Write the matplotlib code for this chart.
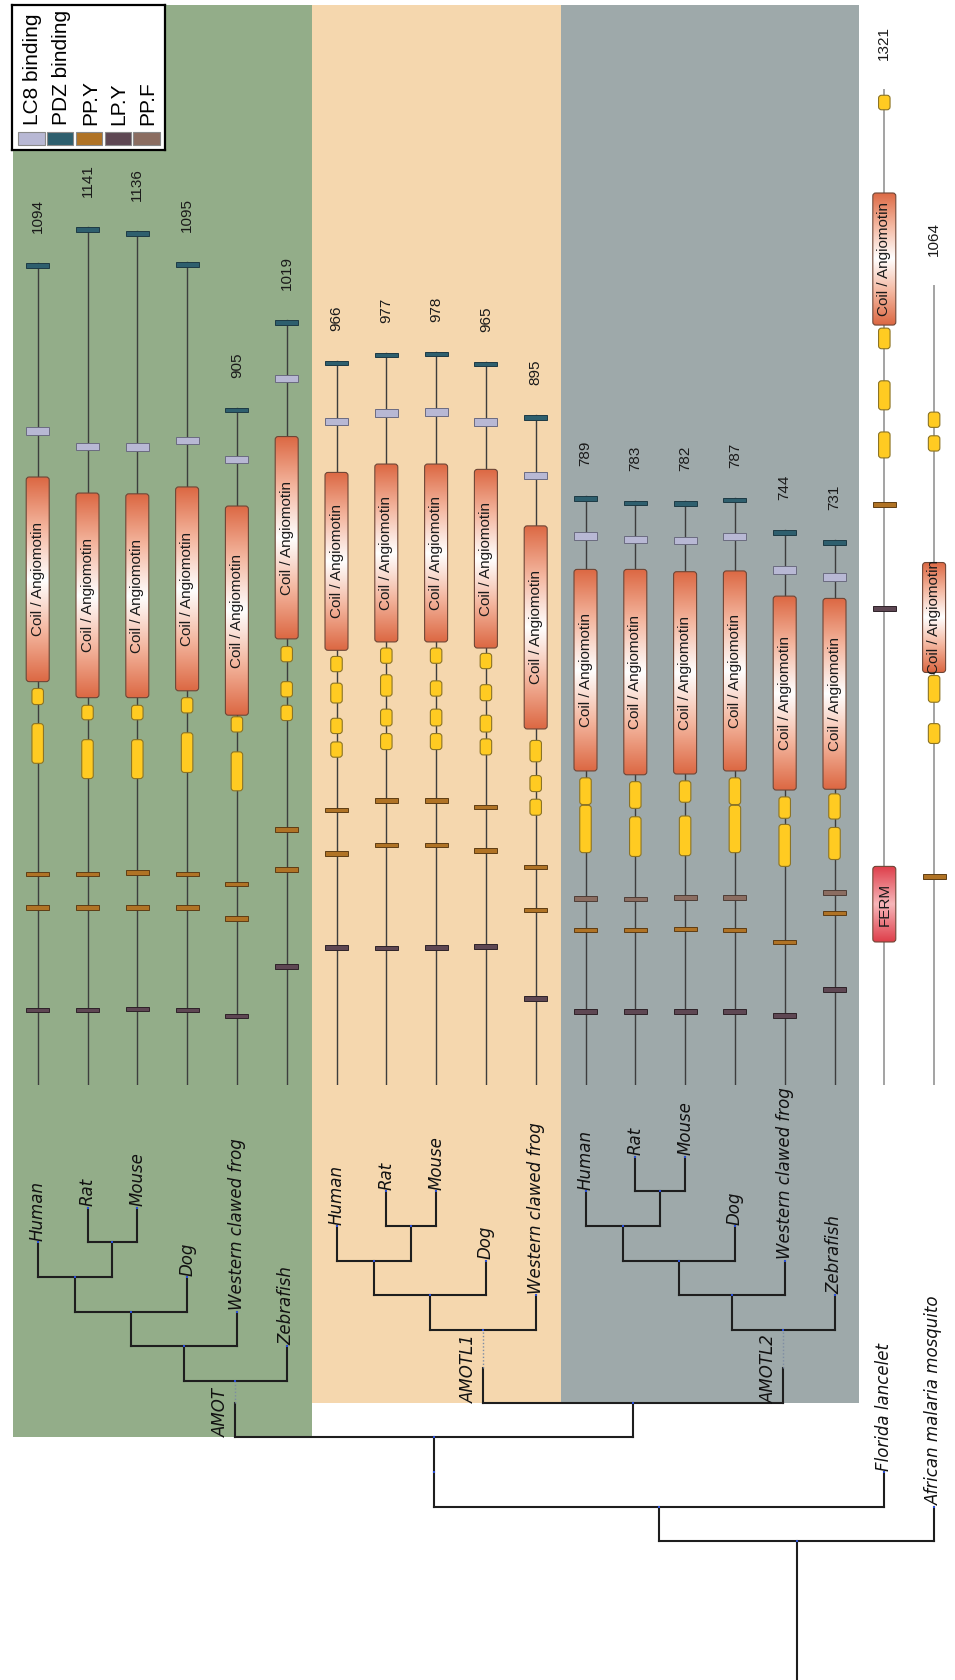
import numpy as np
import matplotlib
matplotlib.use("Agg")
import matplotlib.pyplot as plt
from matplotlib.colors import LinearSegmentedColormap
from matplotlib.patches import Rectangle, FancyBboxPatch

# ---- proteins, one lane each, in the leaf order of the tree ----
species = ["Human", "Rat", "Mouse", "Dog", "Western clawed frog", "Zebrafish",
           "Human", "Rat", "Mouse", "Dog", "Western clawed frog",
           "Human", "Rat", "Mouse", "Dog", "Western clawed frog", "Zebrafish",
           "Florida lancelet", "African malaria mosquito"]
lengths = [1094, 1141, 1136, 1095, 905, 1019,
           966, 977, 978, 965, 895,
           789, 783, 782, 787, 744, 731,
           1321, 1064]
has_pdz = [True] * 17 + [False, False]
lc8 = [874, 854, 853, 862, 837, 943,
       887, 898, 899, 886, 816,
       737, 732, 731, 736, 692, 683,
       None, None]
coil = [(546, 814), (525, 793), (525, 792), (534, 801), (502, 776), (602, 867),
        (587, 820), (598, 831), (598, 831), (590, 824), (484, 750),
        (429, 693), (424, 693), (425, 690), (429, 691), (404, 658), (405, 655),
        (1013, 1186), (558, 702)]
cc_boxes = [[(516, 537), (439, 491)],
            [(496, 515), (419, 470)],
            [(496, 515), (419, 470)],
            [(505, 525), (427, 479)],
            [(480, 500), (403, 454)],
            [(572, 592), (526, 546), (495, 515)],
            [(559, 579), (518, 544), (478, 498), (447, 467)],
            [(570, 590), (527, 555), (488, 510), (457, 478)],
            [(570, 590), (527, 547), (488, 510), (457, 478)],
            [(563, 583), (521, 542), (480, 502), (450, 471)],
            [(441, 469), (402, 423), (371, 392)],
            [(385, 420), (322, 384)],
            [(380, 415), (317, 369)],
            [(388, 416), (318, 370)],
            [(385, 420), (322, 384)],
            [(367, 395), (304, 359)],
            [(366, 399), (313, 355)],
            [(1295, 1314), (982, 1009), (902, 940), (839, 873)],
            [(879, 899), (848, 868), (519, 554), (465, 491)]]
pp_y = [[294, 250], [294, 250], [296, 250], [294, 250], [281, 236], [352, 300],
        [378, 321], [390, 332], [390, 332], [382, 325], [303, 247],
        [221], [221], [222], [221], [205], [243],
        [778], [291]]
lp_y = [116, 116, 117, 116, 108, 173,
        198, 197, 198, 199, 131,
        114, 114, 114, 114, 109, 143,
        642, None]
pp_f = [None] * 11 + [262, 261, 263, 263, None, 270] + [None, None]
ferm = [None] * 17 + [(205, 304), None]

# ---- tree (leaves are lane numbers) ----
amot_tree = ((((0, (1, 2)), 3), 4), 5)
amotl1_tree = (((6, (7, 8)), 9), 10)
amotl2_tree = ((((11, (12, 13)), 14), 15), 16)
clade_names = ["AMOT", "AMOTL1", "AMOTL2"]
clade_levels = [8.63, 10.1, 10.1]
clade_colors = ["#93AD89", "#F5D7AE", "#9EA9AA"]
full_tree = ((("unary", (("clade", 0, amot_tree),
                         (("clade", 1, amotl1_tree), ("clade", 2, amotl2_tree)))), 17), 18)
root_level = 4

legend_names = ["LC8 binding", "PDZ binding", "PP.Y", "LP.Y", "PP.F"]
legend_colors = ["#B8B8D4", "#2E5F6E", "#B07325", "#5E4753", "#8B6D61"]

# ---- layout (pixels of a 955x1680 canvas) ----
W, H = 955, 1680
lane0_px, lane_px = 37.7, 49.8
level_px = 34.65
res_px, res0_px, prot_bottom_px = 0.7635, 1098.5, 1085
top_px = 4.5

fig = plt.figure(figsize=(W / 100, H / 100), dpi=100)
xlim = (-lane0_px / lane_px, (W - lane0_px) / lane_px)

# ---------------- tree ----------------
ax = fig.add_axes([0, 0, 1, 1])
ax.set_xlim(*xlim)
ax.set_ylim(0, H / level_px)
ax.axis("off")
top_level = (H - top_px) / level_px

branch = dict(color="#1e1e1e", lw=1.5, solid_capstyle="projecting", zorder=2)
dotted = dict(color="#7d8ca3", lw=1.0, ls=(0, (1, 1.5)), zorder=2)
label_font = dict(family="DejaVu Sans", style="italic", fontsize=12, color="#111111")
dots = []


def leaves(node):
    if isinstance(node, int):
        return [node]
    if node[0] == "unary":
        return leaves(node[1])
    if node[0] == "clade":
        return leaves(node[2])
    return [lf for c in node for lf in leaves(c)]


def draw(node, h):
    if isinstance(node, int):
        dots.append((node, h))
        ax.text(node, h + 0.04, species[node], rotation=90, ha="center", va="bottom",
                zorder=5, **label_font)
        return node
    if node[0] == "unary":
        x = draw(node[1], h + 1)
        ax.plot([x, x], [h, h + 1], **branch)
        dots.append((x, h))
        return x
    xs = []
    for child in node:
        if not isinstance(child, int) and child[0] == "clade":
            _, k, sub = child
            ch = clade_levels[k]
            cx = draw(sub, ch)
            ax.plot([cx, cx], [h, h + 1], **branch)
            ax.plot([cx, cx], [h + 1, ch], **dotted)
            lanes = leaves(sub)
            ax.add_patch(Rectangle((min(lanes) - 0.5, h), max(lanes) - min(lanes) + 1,
                                   top_level - h, color=clade_colors[k], lw=0, zorder=0))
            ax.text(cx - 0.1, h, clade_names[k], rotation=90, ha="right", va="bottom",
                    zorder=5, **label_font)
        else:
            cx = draw(child, h + 1)
            ax.plot([cx, cx], [h, h + 1], **branch)
        xs.append(cx)
    ax.plot([min(xs), max(xs)], [h, h], **branch)
    x = (min(xs) + max(xs)) / 2
    dots.append((x, h))
    return x


x_root = draw(full_tree, root_level)
ax.plot([x_root, x_root], [0, root_level], **branch)
ax.scatter([d[0] for d in dots], [d[1] for d in dots], marker="s", s=3,
           color="#2a4fd8", lw=0, zorder=4)

# ---------------- proteins ----------------
axp = fig.add_axes([0, 1 - prot_bottom_px / H, 1, prot_bottom_px / H], zorder=3)
axp.patch.set_alpha(0)
axp.axis("off")

bar_w = 23 / lane_px
cc_w = 11.5 / lane_px
thin_h = 4.5 / res_px
lc8_h = 7.5 / res_px
round_kw = dict(boxstyle=f"round,pad=0,rounding_size={3 / lane_px}",
                mutation_aspect=lane_px / res_px)
sans = dict(family="Liberation Sans", fontsize=11, color="#1a1a1a")

coil_cmap = LinearSegmentedColormap.from_list("coil", ["#DC6843", "#F4B7A0", "#FFFFFF", "#F4B7A0", "#DC6843"])
ferm_cmap = LinearSegmentedColormap.from_list("ferm", ["#DE3E4A", "#F7B6B9", "#DE3E4A"])


def bar(x, pos, h, fc, ec):
    axp.add_patch(Rectangle((x - bar_w / 2, pos - h / 2), bar_w, h, fc=fc, ec=ec,
                            lw=0.7, zorder=4))


def gradient_box(x, span, cmap, text):
    y0, y1 = span
    p = FancyBboxPatch((x - bar_w / 2, y0), bar_w, y1 - y0, fc="none", ec="#6e4636",
                       lw=0.8, zorder=4, **round_kw)
    axp.add_patch(p)
    im = axp.imshow(np.linspace(0, 1, 256).reshape(-1, 1), cmap=cmap, origin="lower",
                    extent=[x - bar_w / 2, x + bar_w / 2, y0, y1], aspect="auto",
                    interpolation="bilinear", zorder=3)
    im.set_clip_path(p)
    axp.text(x, (y0 + y1) / 2, text, rotation=90, ha="center", va="center", zorder=5, **sans)


for i, L in enumerate(lengths):
    outside = i >= 17
    axp.plot([i, i], [0, L], color="#a3a3a3" if outside else "#3d3d3d",
             lw=1.4 if outside else 1.0, zorder=1)
    axp.text(i, L + 30 / res_px, str(L), rotation=90, ha="center", va="bottom", zorder=5, **sans)
    if has_pdz[i]:
        bar(i, L - thin_h / 2, thin_h, legend_colors[1], "#1d3a44")
    if lc8[i] is not None:
        bar(i, lc8[i], lc8_h, legend_colors[0], "#6b6b80")
    for p in pp_y[i]:
        bar(i, p, thin_h, legend_colors[2], "#5e3d14")
    if lp_y[i] is not None:
        bar(i, lp_y[i], thin_h, legend_colors[3], "#2e2228")
    if pp_f[i] is not None:
        bar(i, pp_f[i], thin_h, legend_colors[4], "#4e3d36")
    for y0, y1 in cc_boxes[i]:
        axp.add_patch(FancyBboxPatch((i - cc_w / 2, y0), cc_w, y1 - y0, fc="#FFCB22",
                                     ec="#8C7425", lw=0.8, zorder=4, **round_kw))
    gradient_box(i, coil[i], coil_cmap, "Coil / Angiomotin")
    if ferm[i] is not None:
        gradient_box(i, ferm[i], ferm_cmap, "FERM")

axp.set_xlim(*xlim)
axp.set_ylim((res0_px - prot_bottom_px) / res_px, res0_px / res_px)

# ---------------- legend ----------------
box = (12.3, 4.7, 152.7, 145.3)  # left, top, width, height in px
lg = fig.add_axes([box[0] / W, 1 - (box[1] + box[3]) / H, box[2] / W, box[3] / H], zorder=6)
lg.set_xlim(0, box[2])
lg.set_ylim(box[3], 0)
lg.set_xticks([])
lg.set_yticks([])
lg.set_facecolor("white")
for s in lg.spines.values():
    s.set_linewidth(1.6)
    s.set_color("black")
for j, (name, c) in enumerate(zip(legend_names, legend_colors)):
    cx = 19 + 28.8 * j
    lg.add_patch(Rectangle((cx - 13.2, 127), 26.4, 13.5, fc=c, ec="#8a8a8a", lw=0.8))
    lg.text(cx + 1.5, 120, name, rotation=90, ha="center", va="bottom",
            family="Liberation Sans", fontsize=15, color="black")

fig.savefig("out.png", dpi=100)
